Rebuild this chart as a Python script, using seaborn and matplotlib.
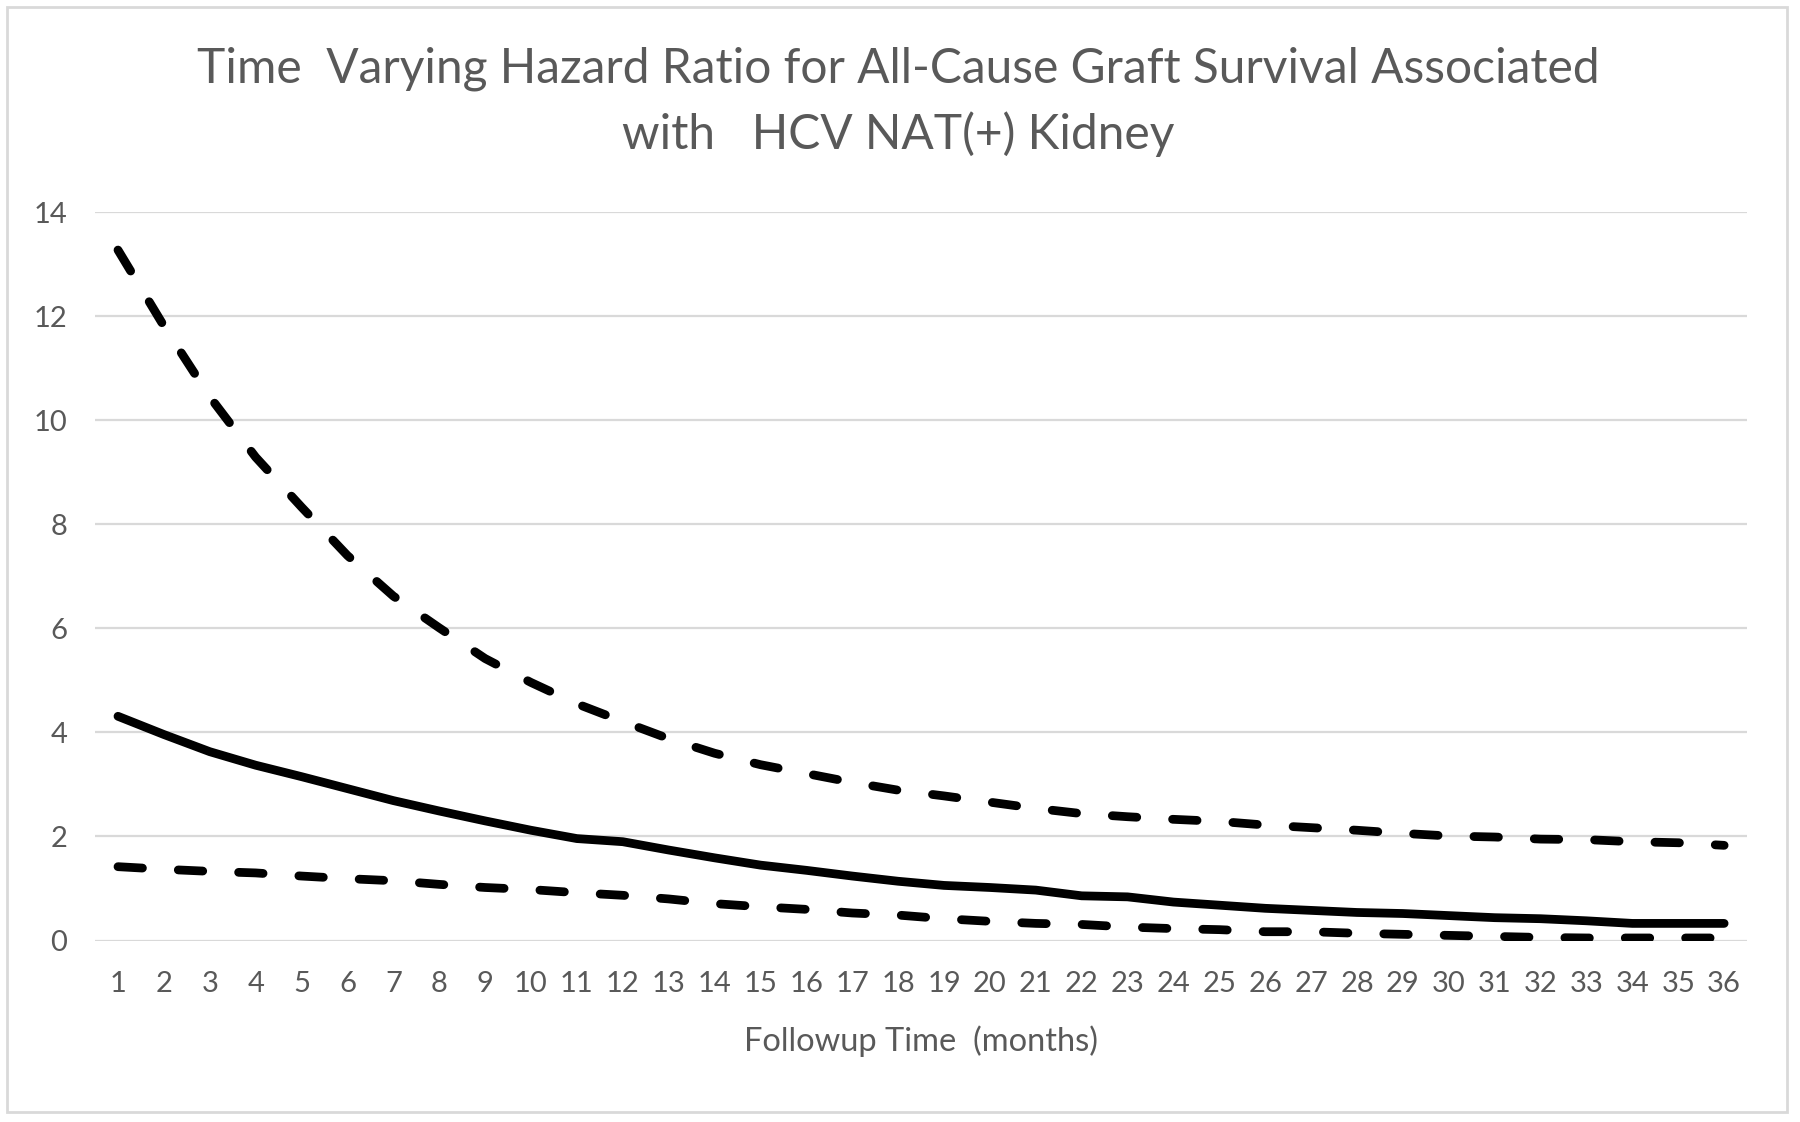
import numpy as np
import pandas as pd
import matplotlib
matplotlib.use("Agg")
import matplotlib.pyplot as plt
import seaborn as sns
from matplotlib.patches import Rectangle

# %% Data
months = list(range(1, 37))

hazard_ratio = [4.31, 3.96, 3.63, 3.37, 3.15, 2.92, 2.69, 2.49, 2.30, 2.12,
                1.96, 1.90, 1.74, 1.59, 1.45, 1.35, 1.24, 1.14, 1.06, 1.02,
                0.97, 0.86, 0.84, 0.74, 0.68, 0.62, 0.58, 0.54, 0.52, 0.48,
                0.44, 0.42, 0.38, 0.33, 0.33, 0.33]

upper_ci = [13.27, 11.81, 10.45, 9.29, 8.33, 7.40, 6.62, 6.01, 5.42, 4.96,
            4.55, 4.21, 3.88, 3.60, 3.38, 3.21, 3.04, 2.89, 2.78, 2.66,
            2.54, 2.44, 2.38, 2.33, 2.29, 2.22, 2.17, 2.12, 2.06, 2.01,
            1.99, 1.95, 1.94, 1.90, 1.88, 1.83]

lower_ci = [1.42, 1.37, 1.33, 1.30, 1.24, 1.19, 1.15, 1.08, 1.02, 0.98,
            0.92, 0.87, 0.80, 0.71, 0.65, 0.60, 0.53, 0.49, 0.42, 0.37,
            0.33, 0.31, 0.26, 0.23, 0.21, 0.17, 0.17, 0.14, 0.12, 0.10,
            0.08, 0.06, 0.05, 0.05, 0.05, 0.05]

title_lines = ["Time  Varying Hazard Ratio for All-Cause Graft Survival Associated",
               "with   HCV NAT(+) Kidney"]
x_label = "Followup Time  (months)"
y_ticks = [0, 2, 4, 6, 8, 10, 12, 14]

df = pd.DataFrame({"month": months, "hr": hazard_ratio,
                   "upper": upper_ci, "lower": lower_ci})

# %% Style
sns.set_style("white")
plt.rcParams["font.family"] = ["Lato", "DejaVu Sans"]
text_grey = "#595959"
grid_grey = "#d9d9d9"

fig = plt.figure(figsize=(18, 11.22), dpi=100)
ax = fig.add_axes([0.0528, 0.1617, 0.9178, 0.6493])

lw = 6.3
dash = (0, (2.8, 4.1))
sns.lineplot(data=df, x="month", y="upper", ax=ax, color="black", lw=lw,
             linestyle=dash, dash_capstyle="round")
sns.lineplot(data=df, x="month", y="lower", ax=ax, color="black", lw=lw,
             linestyle=dash, dash_capstyle="round")
sns.lineplot(data=df, x="month", y="hr", ax=ax, color="black", lw=lw,
             solid_capstyle="round")

# %% Axes
ax.set_xlim(0.5, 36.5)
ax.set_ylim(0, 14)
ax.set_xticks(months)
ax.set_yticks(y_ticks)
ax.yaxis.grid(True, color=grid_grey, lw=1.6)
ax.set_axisbelow(True)
for s in ax.spines.values():
    s.set_visible(False)
ax.tick_params(axis="both", length=0, labelsize=21, labelcolor=text_grey)
ax.tick_params(axis="x", pad=22)
ax.tick_params(axis="y", pad=20)
ax.set_xlabel(x_label, fontsize=23.5, color=text_grey, labelpad=20)
ax.set_ylabel("")

# %% Title and chart border
fig.text(0.499, 1 - 69 / 1122, title_lines[0], ha="center", va="center",
         fontsize=34.5, color=text_grey)
fig.text(0.499, 1 - 134 / 1122, title_lines[1], ha="center", va="center",
         fontsize=34.5, color=text_grey)
fig.patches.append(Rectangle((7 / 1800, 10 / 1122), 1780 / 1800, 1105 / 1122,
                             transform=fig.transFigure, fill=False,
                             edgecolor=grid_grey, lw=2))

fig.savefig("out.png", dpi=100, facecolor="white")
